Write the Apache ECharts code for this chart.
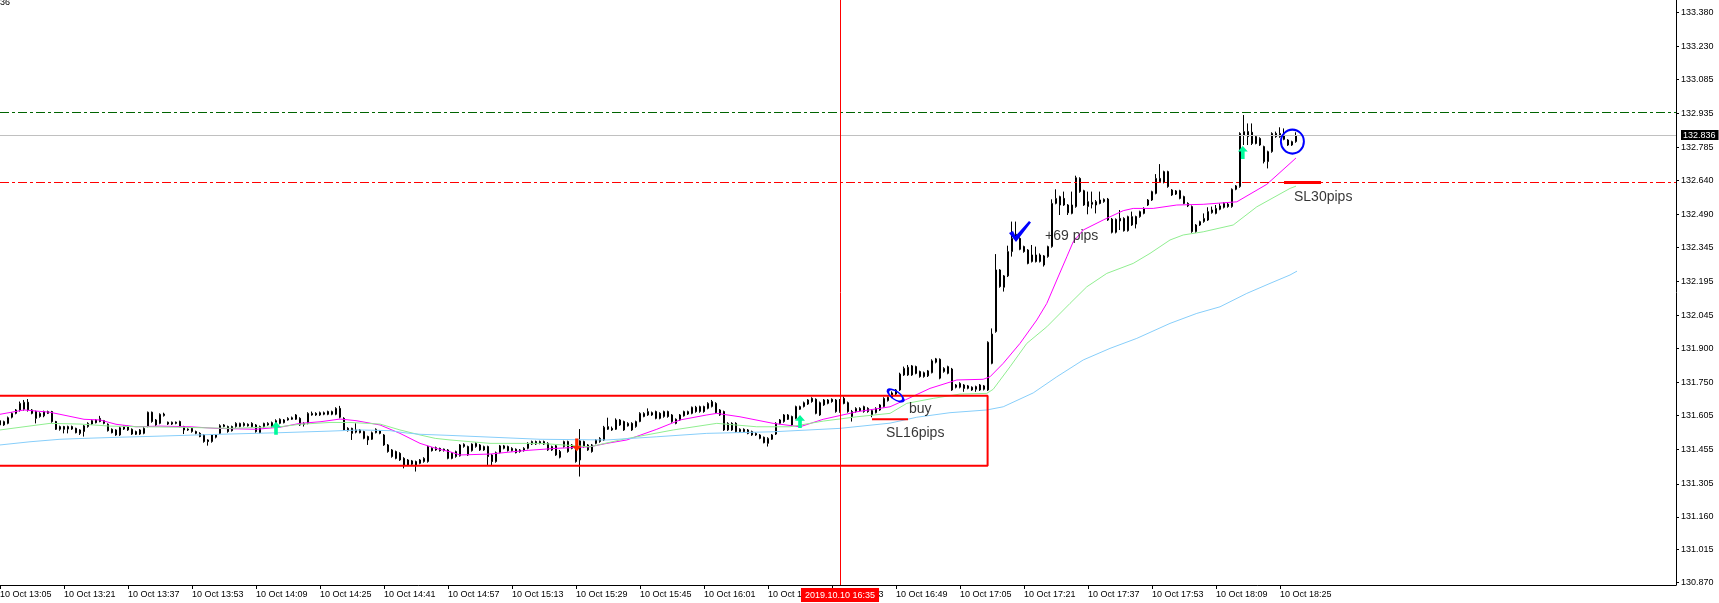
<!DOCTYPE html>
<html><head><meta charset="utf-8">
<script src="https://cdn.jsdelivr.net/npm/echarts@6/dist/echarts.min.js"></script>
<style>html,body{margin:0;padding:0;background:#fff;}#chart{width:1719px;height:603px;}</style>
</head><body><div id="chart"></div>
<script>
// one-minute bars from 10 Oct 13:05, [open, close, low, high]
const candles = [
[131.564,131.583,131.557,131.589],[131.564,131.579,131.560,131.583],[131.571,131.596,131.567,131.601],[131.598,131.615,131.593,131.620],
[131.615,131.630,131.611,131.634],[131.630,131.659,131.623,131.667],[131.633,131.664,131.627,131.674],[131.664,131.630,131.623,131.678],
[131.630,131.615,131.611,131.634],[131.623,131.593,131.571,131.627],[131.601,131.615,131.596,131.620],[131.604,131.623,131.598,131.627],
[131.615,131.623,131.612,131.627],[131.623,131.579,131.574,131.626],[131.579,131.545,131.542,131.582],[131.545,131.557,131.539,131.561],
[131.557,131.545,131.527,131.560],[131.546,131.557,131.527,131.561],[131.557,131.546,131.542,131.561],[131.549,131.530,131.527,131.552],
[131.542,131.527,131.520,131.545],[131.535,131.560,131.513,131.564],[131.557,131.571,131.552,131.576],[131.568,131.583,131.564,131.589],
[131.586,131.574,131.571,131.590],[131.579,131.593,131.576,131.604],[131.583,131.571,131.567,131.586],[131.567,131.539,131.535,131.571],
[131.545,131.530,131.527,131.549],[131.542,131.520,131.516,131.545],[131.520,131.552,131.516,131.557],[131.546,131.557,131.542,131.561],
[131.557,131.542,131.538,131.561],[131.545,131.524,131.520,131.549],[131.535,131.523,131.520,131.539],[131.542,131.524,131.520,131.546],
[131.527,131.549,131.523,131.554],[131.557,131.620,131.554,131.623],[131.620,131.579,131.574,131.623],[131.586,131.564,131.560,131.590],
[131.571,131.611,131.567,131.615],[131.605,131.612,131.601,131.618],[131.576,131.568,131.564,131.579],[131.568,131.576,131.564,131.579],
[131.576,131.571,131.567,131.579],[131.579,131.557,131.554,131.583],[131.557,131.542,131.524,131.560],[131.542,131.546,131.538,131.549],
[131.535,131.549,131.530,131.554],[131.535,131.527,131.523,131.539],[131.527,131.513,131.510,131.532],[131.520,131.491,131.486,131.524],
[131.498,131.491,131.473,131.501],[131.491,131.520,131.486,131.524],[131.510,131.520,131.505,131.524],[131.527,131.561,131.524,131.567],
[131.557,131.564,131.554,131.568],[131.557,131.535,131.530,131.561],[131.557,131.539,131.535,131.561],[131.557,131.571,131.552,131.576],
[131.557,131.571,131.554,131.574],[131.561,131.571,131.557,131.576],[131.567,131.560,131.557,131.571],[131.571,131.557,131.552,131.576],
[131.564,131.535,131.530,131.568],[131.557,131.530,131.527,131.561],[131.557,131.571,131.552,131.574],[131.564,131.571,131.561,131.576],
[131.574,131.557,131.552,131.579],[131.568,131.583,131.564,131.589],[131.571,131.589,131.567,131.593],[131.574,131.586,131.571,131.590],
[131.586,131.593,131.583,131.598],[131.589,131.596,131.586,131.601],[131.589,131.608,131.586,131.612],[131.593,131.564,131.560,131.598],
[131.571,131.567,131.557,131.576],[131.571,131.615,131.567,131.620],[131.608,131.615,131.605,131.623],[131.615,131.608,131.604,131.620],
[131.608,131.618,131.604,131.623],[131.611,131.618,131.607,131.623],[131.623,131.611,131.607,131.627],[131.611,131.623,131.607,131.627],
[131.611,131.637,131.607,131.642],[131.637,131.598,131.593,131.648],[131.593,131.542,131.539,131.598],[131.549,131.539,131.535,131.554],
[131.549,131.527,131.498,131.552],[131.532,131.542,131.527,131.571],[131.542,131.530,131.527,131.546],[131.535,131.505,131.501,131.539],
[131.513,131.498,131.476,131.517],[131.501,131.530,131.498,131.535],[131.530,131.545,131.527,131.549],[131.538,131.527,131.523,131.542],
[131.520,131.476,131.472,131.524],[131.476,131.447,131.442,131.480],[131.454,131.425,131.420,131.458],[131.447,131.417,131.413,131.451],
[131.439,131.410,131.406,131.444],[131.417,131.388,131.373,131.422],[131.410,131.388,131.384,131.414],[131.391,131.406,131.387,131.410],
[131.403,131.388,131.359,131.407],[131.395,131.410,131.391,131.414],[131.403,131.417,131.398,131.422],[131.403,131.469,131.398,131.473],
[131.461,131.451,131.447,131.466],[131.454,131.464,131.450,131.469],[131.461,131.451,131.447,131.464],[131.451,131.458,131.447,131.460],
[131.454,131.417,131.413,131.458],[131.439,131.417,131.413,131.444],[131.425,131.447,131.420,131.451],[131.428,131.476,131.425,131.480],
[131.469,131.479,131.464,131.483],[131.469,131.432,131.428,131.473],[131.451,131.480,131.447,131.483],[131.469,131.483,131.464,131.488],
[131.476,131.454,131.450,131.480],[131.454,131.469,131.450,131.473],[131.469,131.425,131.388,131.473],[131.432,131.403,131.388,131.436],
[131.403,131.442,131.398,131.447],[131.442,131.472,131.439,131.476],[131.461,131.472,131.457,131.476],[131.469,131.451,131.447,131.473],
[131.451,131.461,131.447,131.466],[131.457,131.442,131.439,131.461],[131.447,131.454,131.442,131.458],[131.451,131.461,131.447,131.466],
[131.461,131.483,131.457,131.488],[131.480,131.491,131.476,131.495],[131.491,131.480,131.476,131.495],[131.483,131.491,131.479,131.495],
[131.491,131.480,131.476,131.495],[131.483,131.454,131.450,131.488],[131.454,131.469,131.450,131.473],[131.472,131.432,131.428,131.476],
[131.447,131.422,131.417,131.454],[131.469,131.491,131.464,131.495],[131.491,131.447,131.442,131.495],[131.461,131.476,131.457,131.480],
[131.454,131.403,131.398,131.458],[131.410,131.494,131.337,131.546],[131.491,131.469,131.464,131.495],[131.454,131.476,131.450,131.480],
[131.476,131.447,131.442,131.480],[131.483,131.498,131.479,131.502],[131.491,131.505,131.486,131.510],[131.498,131.554,131.494,131.560],
[131.545,131.557,131.542,131.596],[131.549,131.542,131.538,131.557],[131.545,131.586,131.542,131.593],[131.586,131.564,131.560,131.590],
[131.579,131.542,131.538,131.583],[131.560,131.571,131.557,131.576],[131.571,131.542,131.538,131.576],[131.557,131.579,131.552,131.583],
[131.579,131.615,131.576,131.620],[131.601,131.615,131.598,131.620],[131.608,131.623,131.604,131.637],[131.618,131.608,131.604,131.623],
[131.623,131.593,131.589,131.627],[131.615,131.593,131.589,131.620],[131.601,131.623,131.596,131.627],[131.623,131.601,131.596,131.627],
[131.608,131.579,131.574,131.612],[131.589,131.571,131.567,131.593],[131.586,131.608,131.582,131.612],[131.604,131.623,131.601,131.627],
[131.612,131.623,131.608,131.627],[131.615,131.642,131.611,131.645],[131.642,131.623,131.618,131.648],[131.623,131.645,131.618,131.649],
[131.645,131.623,131.618,131.649],[131.637,131.659,131.633,131.664],[131.645,131.667,131.641,131.674],[131.659,131.618,131.615,131.664],
[131.630,131.608,131.604,131.634],[131.623,131.542,131.538,131.627],[131.542,131.571,131.538,131.576],[131.571,131.542,131.538,131.576],
[131.571,131.535,131.530,131.576],[131.535,131.545,131.530,131.549],[131.545,131.535,131.530,131.549],[131.542,131.527,131.523,131.546],
[131.535,131.520,131.516,131.539],[131.520,131.527,131.516,131.532],[131.520,131.505,131.501,131.524],[131.510,131.486,131.483,131.513],
[131.483,131.505,131.469,131.510],[131.501,131.520,131.498,131.524],[131.524,131.571,131.520,131.576],[131.571,131.586,131.567,131.590],
[131.579,131.608,131.574,131.612],[131.608,131.589,131.586,131.612],[131.601,131.564,131.560,131.605],[131.593,131.645,131.589,131.649],
[131.633,131.645,131.630,131.649],[131.645,131.662,131.641,131.667],[131.656,131.674,131.652,131.678],[131.681,131.667,131.662,131.686],
[131.677,131.615,131.611,131.681],[131.662,131.608,131.604,131.667],[131.652,131.674,131.648,131.678],[131.659,131.674,131.655,131.678],
[131.677,131.667,131.662,131.681],[131.674,131.623,131.618,131.678],[131.623,131.674,131.618,131.678],[131.681,131.659,131.655,131.689],
[131.662,131.623,131.618,131.667],[131.623,131.601,131.579,131.630],[131.623,131.637,131.618,131.642],[131.637,131.627,131.623,131.642],
[131.623,131.645,131.618,131.649],[131.637,131.623,131.618,131.642],[131.627,131.608,131.598,131.633],[131.618,131.637,131.615,131.642],
[131.630,131.652,131.626,131.656],[131.645,131.681,131.641,131.686],[131.671,131.686,131.667,131.689],[131.686,131.705,131.682,131.712],
[131.700,131.718,131.696,131.722],[131.718,131.788,131.714,131.794],[131.784,131.813,131.780,131.821],[131.784,131.818,131.780,131.828],
[131.784,131.824,131.780,131.828],[131.821,131.791,131.787,131.825],[131.799,131.777,131.772,131.803],[131.777,131.794,131.772,131.799],
[131.780,131.802,131.775,131.806],[131.794,131.846,131.791,131.853],[131.840,131.855,131.835,131.859],[131.853,131.770,131.765,131.857],
[131.799,131.813,131.794,131.818],[131.791,131.821,131.787,131.825],[131.810,131.718,131.714,131.815],[131.740,131.730,131.725,131.744],
[131.730,131.747,131.725,131.752],[131.740,131.725,131.710,131.744],[131.725,131.736,131.721,131.740],[131.730,131.718,131.714,131.734],
[131.721,131.733,131.710,131.737],[131.740,131.718,131.714,131.744],[131.721,131.736,131.716,131.740],[131.718,131.928,131.714,131.932],
[131.835,131.964,131.831,131.989],[131.975,132.246,131.970,132.316],[132.246,132.173,132.168,132.250],[132.170,132.220,132.151,132.224],
[132.220,132.327,132.215,132.353],[132.327,132.385,132.305,132.459],[132.378,132.403,132.374,132.459],[132.385,132.337,132.333,132.390],
[132.349,132.327,132.322,132.353],[132.334,132.275,132.271,132.338],[132.283,132.312,132.279,132.356],[132.312,132.283,132.279,132.349],
[132.283,132.312,132.279,132.319],[132.268,132.308,132.261,132.312],[132.305,132.349,132.300,132.353],[132.349,132.539,132.344,132.557],
[132.539,132.561,132.535,132.601],[132.532,132.569,132.488,132.573],[132.561,132.532,132.528,132.591],[132.532,132.498,132.488,132.536],
[132.495,132.532,132.491,132.591],[132.525,132.652,132.520,132.661],[132.649,132.591,132.586,132.654],[132.595,132.532,132.528,132.599],
[132.525,132.547,132.491,132.591],[132.535,132.544,132.517,132.591],[132.532,132.547,132.495,132.554],[132.554,132.539,132.535,132.591],
[132.547,132.557,132.542,132.561],[132.558,132.466,132.462,132.563],[132.470,132.412,132.407,132.475],[132.412,132.469,132.407,132.473],
[132.473,132.462,132.422,132.510],[132.473,132.419,132.415,132.478],[132.419,132.481,132.415,132.485],[132.444,132.481,132.440,132.503],
[132.481,132.448,132.429,132.485],[132.481,132.503,132.476,132.507],[132.495,132.517,132.491,132.522],[132.532,132.554,132.528,132.558],
[132.554,132.591,132.550,132.595],[132.583,132.649,132.579,132.668],[132.649,132.635,132.630,132.712],[132.632,132.679,132.627,132.683],
[132.679,132.613,132.608,132.683],[132.598,132.576,132.572,132.602],[132.580,132.594,132.576,132.598],[132.595,132.561,132.557,132.599],
[132.569,132.539,132.535,132.573],[132.539,132.528,132.523,132.544],[132.525,132.415,132.410,132.530],[132.415,132.444,132.410,132.448],
[132.444,132.459,132.440,132.463],[132.459,132.473,132.454,132.495],[132.466,132.503,132.462,132.522],[132.498,132.510,132.494,132.525],
[132.495,132.517,132.491,132.532],[132.513,132.528,132.509,132.539],[132.539,132.522,132.517,132.544],[132.536,132.525,132.520,132.541],
[132.525,132.601,132.520,132.605],[132.601,132.616,132.597,132.620],[132.613,132.847,132.608,132.852],[132.840,132.855,132.796,132.928],
[132.855,132.833,132.796,132.891],[132.852,132.803,132.796,132.891],[132.833,132.803,132.799,132.837],[132.825,132.796,132.792,132.830],
[132.789,132.723,132.715,132.793],[132.723,132.767,132.693,132.771],[132.767,132.847,132.762,132.852],[132.847,132.833,132.828,132.855],
[132.833,132.847,132.828,132.874],[132.840,132.821,132.817,132.869],[132.818,132.796,132.792,132.822],[132.796,132.811,132.792,132.815],
[132.811,132.836,132.806,132.852]
];

// moving averages: [bar, price]
const maFast = [[0,131.611],[6,131.630],[12.5,131.620],[21,131.589],[25,131.586],[29,131.567],[34,131.556],[40,131.559],[47.5,131.556],[54,131.549],[64,131.545],[70,131.554],[75,131.571],[80,131.578],[85,131.590],[89,131.583],[95,131.564],[100,131.527],[105,131.483],[109,131.461],[112.5,131.446],[115,131.432],[122.5,131.436],[131,131.451],[139,131.461],[147.5,131.468],[151.7,131.483],[156.7,131.498],[164.2,131.545],[170,131.586],[176.7,131.608],[179.2,131.615],[185,131.600],[193.3,131.571],[200,131.556],[205.8,131.589],[214.2,131.622],[222.5,131.644],[226.3,131.674],[232.5,131.725],[239.2,131.762],[245.8,131.765],[247.5,131.776],[250.8,131.835],[255,131.923],[259.2,132.026],[261.7,132.099],[264.2,132.202],[266.7,132.304],[268.3,132.370],[270.8,132.422],[275.8,132.466],[280.8,132.507],[283.3,132.517],[288.3,132.517],[294.2,132.532],[300.8,132.535],[309.2,132.546],[316.7,132.623],[322.5,132.715],[324,132.739]];
const maMid = [[0,131.542],[6,131.556],[12.5,131.571],[20,131.568],[27.5,131.559],[35,131.556],[45,131.554],[57.5,131.549],[62.5,131.552],[70,131.556],[75,131.567],[82.5,131.575],[87.5,131.575],[95,131.568],[100,131.542],[105,131.520],[108.8,131.505],[112.5,131.498],[122.5,131.483],[135,131.483],[147.5,131.468],[155.8,131.501],[168.3,131.542],[179.2,131.571],[189.2,131.556],[197.5,131.556],[205.8,131.581],[214.2,131.600],[222.5,131.615],[226.7,131.659],[233.3,131.681],[240,131.700],[246.7,131.703],[248.3,131.721],[252.5,131.820],[256.7,131.923],[261.7,131.996],[267.5,132.099],[271.7,132.172],[276.7,132.231],[283.3,132.275],[287.5,132.319],[292.5,132.378],[295.8,132.400],[300.8,132.414],[308.3,132.444],[314.2,132.524],[322.5,132.605],[324,132.615]];
const maSlow = [[0,131.476],[7.5,131.490],[15,131.501],[21,131.505],[30,131.510],[40,131.515],[55,131.523],[70,131.530],[82.5,131.537],[90,131.542],[97.5,131.539],[101,131.530],[105,131.523],[112.5,131.518],[135,131.501],[151.7,131.498],[164.2,131.512],[176.7,131.527],[193.3,131.534],[210,131.549],[222.5,131.572],[229.2,131.598],[237.5,131.618],[246.7,131.630],[250.8,131.644],[258.3,131.705],[264.2,131.776],[270.8,131.850],[277.5,131.901],[284.2,131.945],[292.5,132.011],[299.2,132.055],[305,132.084],[311.7,132.143],[317.5,132.187],[322.5,132.224],[324.25,132.241]];

const xTickBars = [0,16,32,48,64,80,96,112,128,144,160,176,192,208,224,240,256,272,288,304,320];
const xTickLabels = ['10 Oct 13:05','10 Oct 13:21','10 Oct 13:37','10 Oct 13:53','10 Oct 14:09','10 Oct 14:25','10 Oct 14:41','10 Oct 14:57','10 Oct 15:13','10 Oct 15:29','10 Oct 15:45','10 Oct 16:01','10 Oct 16:17','10 Oct 16:33','10 Oct 16:49','10 Oct 17:05','10 Oct 17:21','10 Oct 17:37','10 Oct 17:53','10 Oct 18:09','10 Oct 18:25'];
const yTickLabels = ['133.380','133.230','133.085','132.935','132.785','132.640','132.490','132.345','132.195','132.045','131.900','131.750','131.605','131.455','131.305','131.160','131.015','130.870'];

const currentPrice = 132.836;
const targetLevel = 132.935;
const stopLevel = 132.626;
const crossBar = 210;
const crossLabel = '2019.10.10 16:35';
const boxEdges = [[-1,131.693],[246.9,131.693],[246.9,131.385],[-1,131.385]];
const sl16Line = [[218,131.589],[227,131.589]];
const sl30Line = [[321,132.631],[330.25,132.631]];
const notes = [['buy',227.25,131.634],['SL16pips',221.5,131.530],['+69 pips',261.25,132.396],['SL30pips',323.5,132.567]];
const upArrows = [[69,131.550],[200,131.579],[310.7,132.763]];
const downArrows = [[144.2,131.476]];
const circleMarks = [[323.1,132.811]];
const ellipseMarks = [[223.9,131.694]];
const checkMarks = [[255,132.415]];

const yMin = 130.8597, yMax = 133.4342;
const FONT = 'Liberation Sans';

const chart = echarts.init(document.getElementById('chart'), null, {renderer:'canvas'});
chart.setOption({
  animation: false,
  backgroundColor: '#fff',
  grid: {left: 0, right: 43, top: 0, bottom: 18, containLabel: false, outerBoundsMode: 'none'},
  graphic: [{type:'text', left: 0, top: -2, style:{text:'36', fill:'#000', font:'9px "Liberation Sans"'}}],
  xAxis: {
    type: 'value', min: 0, max: 419,
    axisLine: {show: true, onZero: false, lineStyle: {color: '#000', width: 1}},
    axisTick: {show: true, customValues: xTickBars, length: 4, lineStyle: {color: '#000'}},
    axisLabel: {show: true, customValues: xTickBars, formatter: v => xTickLabels[xTickBars.indexOf(v)] || '',
      align: 'left', margin: 5, color: '#000', fontSize: 9, fontFamily: FONT},
    splitLine: {show: false}
  },
  yAxis: {
    type: 'value', position: 'right', min: yMin, max: yMax, scale: true,
    axisLine: {show: true, onZero: false, lineStyle: {color: '#000', width: 1}},
    axisTick: {show: true, customValues: yTickLabels.map(Number), length: 3, lineStyle: {color: '#000'}},
    axisLabel: {show: true, customValues: yTickLabels.map(Number), formatter: v => v.toFixed(3),
      margin: 5, color: '#000', fontSize: 9, fontFamily: FONT},
    splitLine: {show: false}
  },
  series: [
    {
      type: 'candlestick', name: 'USDJPY',
      data: candles.map((c, i) => [i, c[0], c[1], c[2], c[3]]),
      barWidth: 2, z: 3,
      itemStyle: {color: '#fff', color0: '#000', borderColor: '#000', borderColor0: '#000', borderColorDoji: '#000', borderWidth: 1},
      markLine: {
        silent: true, symbol: ['none', 'none'], animation: false,
        data: [
          {yAxis: currentPrice, lineStyle: {color: '#c0c0c0', width: 1, type: 'solid'},
           label: {show: true, position: 'end', distance: 5, formatter: () => currentPrice.toFixed(3), color: '#fff', backgroundColor: '#000', padding: [1, 3, 0, 2], fontSize: 9, fontFamily: FONT}},
          {yAxis: targetLevel, lineStyle: {color: '#006400', width: 1, type: [9, 3, 3, 3]}, label: {show: false}},
          {yAxis: stopLevel, lineStyle: {color: '#ff0000', width: 1, type: [9, 3, 3, 3]}, label: {show: false}},
          {xAxis: crossBar, lineStyle: {color: '#ff0000', width: 1, type: 'solid'},
           label: {show: true, position: 'start', distance: 3, formatter: () => crossLabel, color: '#fff', backgroundColor: '#ff0000', padding: [3, 4, 2, 4], fontSize: 9, fontFamily: FONT}}
        ]
      }
    },
    {type: 'line', name: 'MA fast', data: maFast, showSymbol: false, z: 4, lineStyle: {color: '#ff00ff', width: 1}, silent: true},
    {type: 'line', name: 'MA mid', data: maMid, showSymbol: false, z: 4, lineStyle: {color: '#90ee90', width: 1}, silent: true},
    {type: 'line', name: 'MA slow', data: maSlow, showSymbol: false, z: 4, lineStyle: {color: '#87cefa', width: 1}, silent: true},
    {type: 'line', name: 'box', data: boxEdges, showSymbol: false, z: 5, lineStyle: {color: '#ff0000', width: 2}, silent: true},
    {type: 'line', name: 'SL16', data: sl16Line, showSymbol: false, z: 5, lineStyle: {color: '#ff0000', width: 2}, silent: true},
    {type: 'line', name: 'SL30', data: sl30Line, showSymbol: false, z: 5, lineStyle: {color: '#ff0000', width: 3}, silent: true},
    {type: 'scatter', name: 'buy arrows', data: upArrows, z: 6, silent: true,
     symbol: 'path://M5.5,0 L11,6 L7.5,6 L7.5,14 L3.5,14 L3.5,6 L0,6 Z', symbolSize: [10, 13], itemStyle: {color: '#00fa9a', opacity: 1}},
    {type: 'scatter', name: 'sell arrows', data: downArrows, z: 6, silent: true,
     symbol: 'path://M3.5,0 L7.5,0 L7.5,8 L11,8 L5.5,14 L0,8 L3.5,8 Z', symbolSize: [9, 13], itemStyle: {color: '#ff2a00', opacity: 1}},
    {type: 'scatter', name: 'circle', data: circleMarks, z: 6, silent: true,
     symbol: 'circle', symbolSize: [23, 24], itemStyle: {color: 'rgba(0,0,0,0)', borderColor: '#0000ff', borderWidth: 2, opacity: 1}},
    {type: 'scatter', name: 'ellipse', data: ellipseMarks, z: 6, silent: true,
     symbol: 'path://M0,5 A10,5 0 1 1 20,5 A10,5 0 1 1 0,5 Z', symbolSize: [18, 8], symbolRotate: -35,
     itemStyle: {color: 'rgba(0,0,0,0)', borderColor: '#0000ff', borderWidth: 2, opacity: 1}},
    {type: 'scatter', name: 'check', data: checkMarks, z: 6, silent: true,
     symbol: 'path://M0,12 L4,10 L6.5,15 L20,0 L22,1.5 L7,21 Z', symbolSize: [22, 21], itemStyle: {color: '#0000ff', opacity: 1}},
    {type: 'scatter', name: 'notes', z: 7, silent: true, symbolSize: 0,
     data: notes.map(n => ({name: n[0], value: [n[1], n[2]]})),
     label: {show: true, position: 'right', distance: 0, formatter: '{b}', color: '#000', fontSize: 14, fontFamily: FONT}}
  ]
});
</script></body></html>
